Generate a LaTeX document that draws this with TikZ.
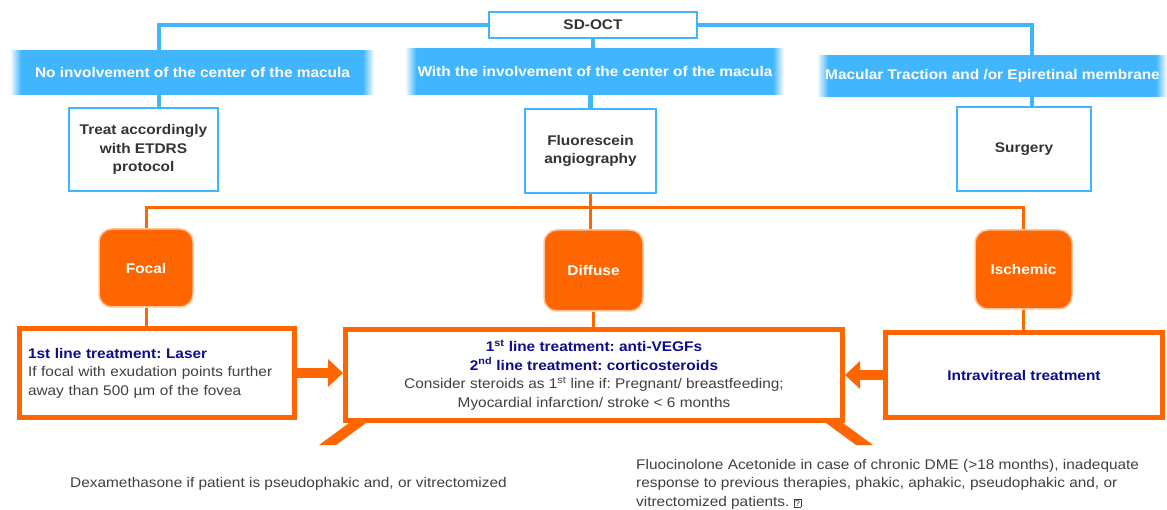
\documentclass[tikz,border=0pt]{standalone}
\usepackage{fontspec}
\setmainfont{Liberation Sans}[FakeStretch=1.1]
\usepackage{tikz}
\usetikzlibrary{arrows.meta,positioning,calc}
\definecolor{skyblue}{RGB}{65,182,255}
\definecolor{orng}{RGB}{255,102,0}
\definecolor{navytxt}{RGB}{12,12,140}
\definecolor{darktxt}{RGB}{51,51,51}
\definecolor{graytxt}{RGB}{64,64,64}
\newcommand{\dsize}{\fontsize{14}{18.5}\selectfont\frenchspacing}
\tikzset{
  banner/.style={fill=skyblue,text=white,font=\dsize\bfseries,inner sep=0pt,
    path picture={
      \foreach \i [evaluate=\i as \p using int(9*\i)] in {1,...,11} {
        \fill[skyblue!\p!white] ([xshift=\i-1]path picture bounding box.south west) rectangle ([xshift=\i]path picture bounding box.north west);
        \fill[skyblue!\p!white] ([xshift=1-\i]path picture bounding box.south east) rectangle ([xshift=-\i]path picture bounding box.north east);
      }
    }},
  bbox/.style={draw=skyblue,line width=2.5,fill=white,text=darktxt,font=\dsize\bfseries,align=center,inner sep=0pt},
  cat/.style={fill=orng,draw=orng!40,line width=1.5,rounded corners=13,text=white,font=\dsize\bfseries,inner sep=0pt},
  tbox/.style={draw=orng,line width=5,fill=white,text=graytxt,font=\dsize,inner sep=0pt},
  bline/.style={skyblue,line width=4.5},
  oline/.style={orng,line width=3},
  barrow/.style={orng,line width=10,-{Triangle[length=15pt,width=27pt]}},
  note/.style={text=graytxt,font=\dsize,inner sep=0pt,align=left},
}

\begin{document}
\begin{tikzpicture}[x=1pt,y=-1pt]
\useasboundingbox (0,0) rectangle (1167,510);
% SD-OCT and the three findings
\node[bbox,minimum width=208,minimum height=26] (sdoct) at (593,25) {SD-OCT};
\node[banner,minimum width=363,minimum height=45] (nocenter) at (192.5,72.5) {No involvement of the center of the macula};
\node[banner,minimum width=378,minimum height=47] (withcenter) at (595,71.5) {With the involvement of the center of the macula};
\node[banner,minimum width=349,minimum height=42] (traction) at (992.5,76) {Macular Traction and /or Epiretinal membrane};
\node[bbox,minimum width=149,minimum height=83] (treat) at (143.5,149.5) {Treat accordingly\\with ETDRS\\protocol};
\node[bbox,minimum width=131,minimum height=84] (fluor) at (590.5,151) {Fluorescein\\angiography};
\node[bbox,minimum width=134,minimum height=84] (surgery) at (1024,149) {Surgery};
\coordinate (dropL) at (159,50);
\coordinate (dropR) at (1032,55);
\draw[bline] (sdoct.west) -| (dropL);
\draw[bline] (sdoct.east) -| (dropR);
\draw[bline] (sdoct.south) -- (sdoct.south |- withcenter.north);
\draw[bline] (dropL |- nocenter.south) -- (dropL |- treat.north);
\draw[bline] (fluor.north |- withcenter.south) -- (fluor.north);
\draw[bline] (dropR |- traction.south) -- (dropR |- surgery.north);
% angiography result
\node[cat,minimum width=94,minimum height=78] (focal) at (146,268) {Focal};
\node[cat,minimum width=99,minimum height=81] (diffuse) at (593.5,270.5) {Diffuse};
\node[cat,minimum width=97,minimum height=79] (ischemic) at (1023.5,269.5) {Ischemic};
\coordinate (obar) at (590.5,208);
\draw[oline] (focal.north) |- (obar) -| (ischemic.north);
\draw[oline] (fluor.south) -- (fluor.south |- diffuse.north);
% treatments
\node[tbox,minimum width=275,minimum height=89,text width=258,align=left] (laser) at (157,373)
  {{\color{navytxt}\bfseries 1st line treatment: Laser}\\If focal with exudation points further\\away than 500 µm of the fovea};
\node[tbox,minimum width=497,minimum height=91,align=center] (antivegf) at (594,375)
  {{\color{navytxt}\bfseries 1\textsuperscript{st} line treatment: anti-VEGFs}\\
   {\color{navytxt}\bfseries 2\textsuperscript{nd} line treatment: corticosteroids}\\
   Consider steroids as 1\textsuperscript{st} line if: Pregnant/ breastfeeding;\\
   Myocardial infarction/ stroke < 6 months};
\node[tbox,minimum width=277,minimum height=85] (intravit) at (1024,375) {\color{navytxt}\bfseries Intravitreal treatment};
\draw[oline] (focal.south) -- (focal.south |- laser.north);
\draw[oline] (diffuse.south) -- (diffuse.south |- antivegf.north);
\draw[oline] (ischemic.south) -- (ischemic.south |- intravit.north);
\draw[barrow] (laser.east) -- (laser.east -| antivegf.west);
\draw[barrow] (intravit.west) -- (intravit.west -| antivegf.east);
% callout legs
\fill[orng] ([xshift=6]antivegf.south west) -- ++(17,0) -- ++(-30,22) -- ++(-17,0) -- cycle;
\fill[orng] ([xshift=-2]antivegf.south east) -- ++(-17,0) -- ++(30,22) -- ++(17,0) -- cycle;
% steroid notes
\node[note,anchor=base west] (dexa) at (70,487) {Dexamethasone if patient is pseudophakic and, or vitrectomized};
\node[note,anchor=north west] (fluo) at (636,459) {Fluocinolone Acetonide in case of chronic DME (>18 months), inadequate\\response to previous therapies, phakic, aphakic, pseudophakic and, or\\vitrectomized patients. {\setlength{\fboxsep}{0.8pt}\setlength{\fboxrule}{0.4pt}\fbox{\fontsize{8.5}{8.5}\selectfont ?}}};
\end{tikzpicture}
\end{document}
